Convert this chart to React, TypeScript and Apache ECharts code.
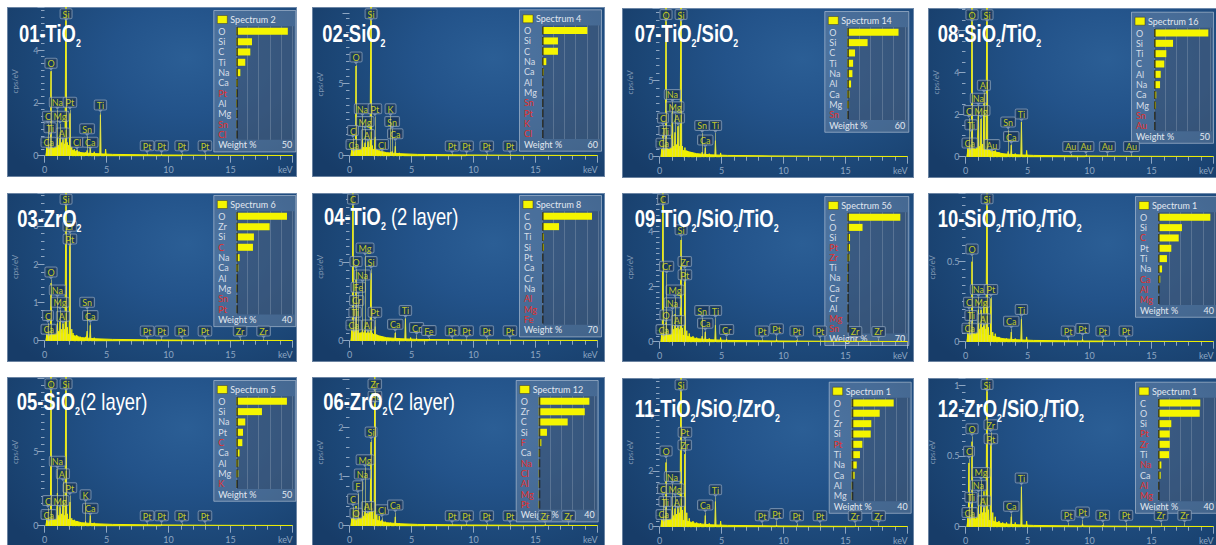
import React, { useEffect, useRef } from 'react';
import * as echarts from 'echarts';

type Peak = [number, number];
type Mark = [string, number, number];

// ---------- shared ----------
const bgKeV = [0.12, 0.2, 1.0, 2.0, 3.0, 4.0, 5.5, 9, 14, 20];

// ---------- 01-TiO2 ----------
const peaksS01: Peak[] = [[0.18, 0.35], [0.28, 0.7], [0.34, 0.5], [0.45, 0.45], [0.525, 3.2], [0.6, 0.4], [0.7, 0.3], [0.85, 0.35], [0.93, 0.45], [1.04, 0.8], [1.15, 0.4], [1.25, 0.9], [1.38, 0.5], [1.49, 0.75], [1.6, 0.45], [1.74, 7.5], [1.85, 0.5], [1.95, 0.4], [2.05, 1.6], [2.2, 0.35], [2.4, 0.25], [2.62, 0.22], [2.8, 0.15], [3.0, 0.12], [3.31, 0.12], [3.44, 0.2], [3.69, 0.35], [4.01, 0.15], [4.51, 1.55], [4.93, 0.25], [9.44, 0.04], [11.07, 0.03]];
const bgS01 = [0, 0.23, 0.3, 0.23, 0.11, 0.08, 0.05, 0.03, 0.015, 0.008];
const marksS01: Mark[] = [['Si', 1.74, 5.09], ['O', 0.525, 3.22], ['Na', 1.04, 1.74], ['Pt', 2.05, 1.74], ['C', 0.277, 1.21], ['Mg', 1.254, 1.21], ['Ti', 0.452, 0.77], ['Al', 1.487, 0.58], ['Ca', 0.341, 0.23], ['Cl', 2.62, 0.23], ['Sn', 3.44, 0.74], ['Ca', 3.69, 0.23], ['Ti', 4.51, 1.64], ['Pt', 8.27, 0.09], ['Pt', 9.44, 0.09], ['Pt', 11.07, 0.09], ['Pt', 12.94, 0.09]];
const elemsS01 = ['O', 'Si', 'C', 'Ti', 'Na', 'Ca', 'Pt', 'Al', 'Mg', 'Sn', 'Cl'];
const wtS01 = [46, 14, 12.5, 8, 3.6, 1.5, 0.6, 0.6, 0.5, 0.3, 0.2];
const redS01 = ['Pt', 'Sn', 'Cl'];

// ---------- 02-SiO2 ----------
const peaksS02: Peak[] = [[0.18, 0.5], [0.28, 0.9], [0.36, 0.6], [0.45, 0.5], [0.525, 6.2], [0.62, 0.5], [0.75, 0.4], [0.9, 0.5], [1.04, 1.2], [1.15, 0.6], [1.25, 0.9], [1.38, 0.6], [1.49, 1.0], [1.6, 0.6], [1.74, 12], [1.85, 0.7], [2.05, 1.3], [2.2, 0.5], [2.4, 0.35], [2.62, 0.3], [2.9, 0.2], [3.31, 0.25], [3.44, 0.3], [3.69, 0.65], [4.01, 0.2], [4.3, 0.1], [9.44, 0.06]];
const bgS02 = [0, 0.41, 0.55, 0.41, 0.21, 0.14, 0.09, 0.055, 0.028, 0.014];
const marksS02: Mark[] = [['Si', 1.74, 9.3], ['O', 0.525, 6.3], ['Na', 1.04, 2.72], ['Pt', 2.05, 2.72], ['K', 3.31, 2.72], ['Mg', 1.254, 1.84], ['Sn', 3.44, 1.84], ['C', 0.277, 1.22], ['Al', 1.487, 0.94], ['Ca', 3.69, 0.99], ['Ca', 0.341, 0.25], ['Cl', 2.62, 0.25], ['Pt', 8.27, 0.16], ['Pt', 9.44, 0.16], ['Pt', 11.07, 0.16], ['Pt', 12.94, 0.16]];
const elemsS02 = ['O', 'Si', 'C', 'Na', 'Ca', 'Al', 'Mg', 'Sn', 'Pt', 'K', 'Cl'];
const wtS02 = [48.6, 17.1, 17.1, 4.6, 1.8, 0.7, 0.6, 0.3, 0.3, 0.2, 0.2];
const redS02 = ['Sn', 'Pt', 'K', 'Cl'];

// ---------- 03-ZrO2 ----------
const peaksS03: Peak[] = [[0.18, 0.2], [0.28, 0.35], [0.36, 0.25], [0.45, 0.25], [0.525, 1.5], [0.62, 0.2], [0.75, 0.2], [0.9, 0.25], [1.04, 0.45], [1.15, 0.25], [1.25, 0.5], [1.38, 0.3], [1.49, 0.45], [1.6, 0.3], [1.74, 4.6], [1.85, 0.35], [2.04, 2.75], [2.2, 0.3], [2.3, 0.2], [2.6, 0.15], [2.9, 0.1], [3.31, 0.1], [3.44, 0.25], [3.69, 0.4], [4.01, 0.08], [9.44, 0.02], [15.77, 0.015]];
const bgS03 = [0, 0.16, 0.21, 0.16, 0.08, 0.052, 0.034, 0.021, 0.01, 0.005];
const marksS03: Mark[] = [['Si', 1.74, 3.5], ['Zr', 2.04, 2.79], ['Pt', 2.05, 2.46], ['O', 0.525, 1.6], ['Na', 1.04, 1.13], ['Mg', 1.254, 0.81], ['C', 0.277, 0.46], ['Al', 1.487, 0.44], ['Ca', 0.341, 0.1], ['Sn', 3.44, 0.81], ['Ca', 3.69, 0.46], ['Pt', 8.27, 0.06], ['Pt', 9.44, 0.06], ['Pt', 11.07, 0.06], ['Pt', 12.94, 0.06], ['Zr', 15.77, 0.06], ['Zr', 17.67, 0.06]];
const elemsS03 = ['O', 'Zr', 'Si', 'C', 'Na', 'Ca', 'Al', 'Mg', 'Sn', 'Pt'];
const wtS03 = [36.2, 23.8, 12.6, 11.9, 2.4, 1.4, 0.4, 0.4, 0.3, 0.2];
const redS03 = ['C', 'Sn', 'Pt'];

// ---------- 04-TiO2 (2 layer) ----------
const peaksS04: Peak[] = [[0.18, 0.8], [0.277, 12], [0.36, 1.0], [0.45, 1.2], [0.525, 4.4], [0.6, 0.8], [0.705, 0.7], [0.85, 0.5], [1.04, 1.0], [1.15, 0.5], [1.25, 1.2], [1.38, 0.5], [1.49, 0.8], [1.6, 0.5], [1.74, 4.3], [1.85, 0.5], [2.05, 0.9], [2.2, 0.4], [2.5, 0.3], [2.9, 0.2], [3.31, 0.15], [3.69, 0.5], [4.01, 0.15], [4.51, 1.4], [4.93, 0.2], [5.41, 0.15], [6.40, 0.08]];
const bgS04 = [0, 0.38, 0.51, 0.38, 0.19, 0.13, 0.083, 0.051, 0.026, 0.013];
const marksS04: Mark[] = [['C', 0.277, 8.57], ['Mg', 1.254, 5.43], ['O', 0.525, 4.57], ['Si', 1.74, 4.57], ['Na', 1.04, 3.72], ['Fe', 0.705, 2.94], ['Cr', 0.573, 2.09], ['Ti', 0.452, 1.34], ['Pt', 2.05, 1.34], ['Ti', 4.51, 1.45], ['Ca', 0.341, 0.53], ['Al', 1.487, 0.53], ['Ca', 3.69, 0.57], ['Cr', 5.41, 0.36], ['Fe', 6.40, 0.17], ['Pt', 8.27, 0.15], ['Pt', 9.44, 0.15], ['Pt', 11.07, 0.15], ['Pt', 12.94, 0.15]];
const elemsS04 = ['C', 'O', 'Ti', 'Si', 'Pt', 'Ca', 'Cr', 'Na', 'Al', 'Mg', 'Fe'];
const wtS04 = [62.5, 21.3, 2.5, 2.5, 0.4, 0.3, 0.3, 0.3, 0.2, 0.2, 0.2];
const redS04 = ['Al', 'Mg', 'Fe'];

// ---------- 05-SiO2 (2 layer) ----------
const peaksS05: Peak[] = [[0.18, 0.5], [0.277, 0.9], [0.36, 0.6], [0.45, 0.6], [0.525, 11], [0.62, 0.6], [0.75, 0.5], [0.9, 0.7], [1.04, 2.2], [1.15, 0.7], [1.25, 1.3], [1.38, 0.8], [1.49, 1.7], [1.6, 0.7], [1.74, 13], [1.85, 0.8], [2.05, 1.6], [2.2, 0.5], [2.4, 0.4], [2.62, 0.3], [2.9, 0.2], [3.31, 0.3], [3.69, 0.7], [4.01, 0.2], [9.44, 0.06]];
const bgS05 = [0, 0.41, 0.54, 0.41, 0.2, 0.135, 0.088, 0.054, 0.027, 0.014];
const marksS05: Mark[] = [['O', 0.525, 9.08], ['Si', 1.74, 9.08], ['Na', 1.04, 3.85], ['Al', 1.487, 3.0], ['Pt', 2.05, 2.05], ['K', 3.31, 1.58], ['C', 0.277, 1.19], ['Mg', 1.254, 1.19], ['Ca', 0.341, 0.25], ['Ca', 3.69, 0.68], ['Pt', 8.27, 0.16], ['Pt', 9.44, 0.16], ['Pt', 11.07, 0.16], ['Pt', 12.94, 0.16]];
const elemsS05 = ['O', 'Si', 'Na', 'Pt', 'C', 'Ca', 'Al', 'Mg', 'K'];
const wtS05 = [45.2, 22.9, 8, 6, 5.4, 2.9, 1.8, 1.8, 0.3];
const redS05 = ['C', 'K'];

// ---------- 06-ZrO2 (2 layer) ----------
const peaksS06: Peak[] = [[0.18, 0.15], [0.277, 0.35], [0.36, 0.2], [0.45, 0.2], [0.525, 0.4], [0.6, 0.2], [0.677, 0.3], [0.8, 0.15], [0.93, 0.18], [1.04, 0.35], [1.15, 0.2], [1.25, 0.4], [1.38, 0.25], [1.49, 0.45], [1.6, 0.3], [1.74, 1.7], [1.85, 0.35], [2.04, 3.6], [2.2, 0.3], [2.4, 0.2], [2.62, 0.12], [2.9, 0.08], [3.31, 0.06], [3.69, 0.18], [4.01, 0.05], [9.44, 0.02], [15.77, 0.02]];
const bgS06 = [0, 0.12, 0.16, 0.12, 0.06, 0.04, 0.026, 0.016, 0.008, 0.004];
const marksS06: Mark[] = [['Zr', 2.04, 2.73], ['Pt', 2.05, 2.48], ['Si', 1.74, 1.75], ['Mg', 1.254, 1.19], ['Na', 1.04, 0.9], ['F', 0.677, 0.66], ['C', 0.277, 0.39], ['Al', 1.487, 0.24], ['Cl', 2.62, 0.17], ['Ca', 3.69, 0.27], ['O', 0.525, 0.1], ['Pt', 8.27, 0.05], ['Pt', 9.44, 0.05], ['Pt', 11.07, 0.05], ['Pt', 12.94, 0.05], ['Zr', 15.77, 0.05], ['Zr', 17.67, 0.05]];
const elemsS06 = ['O', 'Zr', 'C', 'Si', 'F', 'Ca', 'Na', 'Cl', 'Al', 'Mg', 'Pt'];
const wtS06 = [36.2, 32.9, 20.7, 5.9, 1.9, 0.9, 0.4, 0.3, 0.3, 0.3, 0.5];
const redS06 = ['F', 'Na', 'Cl', 'Al', 'Mg', 'Pt'];

// ---------- 07-TiO2/SiO2 ----------
const peaksS07: Peak[] = [[0.18, 0.5], [0.28, 1.6], [0.36, 0.7], [0.45, 0.9], [0.525, 11], [0.62, 0.6], [0.75, 0.5], [0.9, 0.6], [1.04, 3.3], [1.15, 0.7], [1.25, 1.6], [1.38, 0.8], [1.49, 2.0], [1.6, 0.7], [1.74, 12], [1.85, 0.7], [2.05, 0.6], [2.2, 0.4], [2.5, 0.3], [2.9, 0.2], [3.44, 0.3], [3.69, 0.6], [4.01, 0.2], [4.51, 1.05], [4.93, 0.25]];
const bgS07 = [0, 0.39, 0.53, 0.39, 0.2, 0.13, 0.085, 0.053, 0.026, 0.013];
const marksS07: Mark[] = [['O', 0.525, 8.86], ['Si', 1.74, 8.86], ['Na', 1.04, 3.6], ['Mg', 1.254, 2.8], ['C', 0.277, 2.06], ['Al', 1.487, 2.06], ['Ti', 0.452, 1.23], ['Sn', 3.44, 1.56], ['Ti', 4.51, 1.56], ['Ca', 0.341, 0.39], ['Ca', 3.69, 0.61]];
const elemsS07 = ['O', 'Si', 'C', 'Ti', 'Na', 'Al', 'Ca', 'Mg', 'Sn'];
const wtS07 = [53, 21, 8, 6, 5.3, 3.9, 2.1, 1.8, 0.3];
const redS07 = ['Sn'];

// ---------- 08-SiO2/TiO2 ----------
const peaksS08: Peak[] = [[0.18, 0.4], [0.28, 0.7], [0.36, 0.5], [0.45, 0.6], [0.525, 9], [0.62, 0.45], [0.75, 0.4], [0.9, 0.45], [1.04, 2.4], [1.15, 0.5], [1.25, 1.8], [1.38, 0.6], [1.49, 3.0], [1.6, 0.5], [1.74, 10], [1.85, 0.5], [2.12, 0.4], [2.4, 0.3], [2.7, 0.2], [3.0, 0.15], [3.44, 0.25], [3.69, 0.55], [4.01, 0.15], [4.51, 1.65], [4.93, 0.3], [9.71, 0.05]];
const bgS08 = [0, 0.29, 0.38, 0.29, 0.14, 0.095, 0.062, 0.038, 0.019, 0.01];
const marksS08: Mark[] = [['O', 0.525, 6.4], ['Si', 1.74, 6.4], ['Al', 1.487, 3.05], ['Na', 1.04, 2.43], ['C', 0.277, 1.84], ['Mg', 1.254, 1.84], ['Ti', 0.452, 1.17], ['Sn', 3.44, 1.29], ['Ti', 4.51, 1.68], ['Ca', 0.341, 0.3], ['Au', 2.12, 0.22], ['Ca', 3.69, 0.6], ['Au', 8.49, 0.13], ['Au', 9.71, 0.13], ['Au', 11.44, 0.13], ['Au', 13.38, 0.13]];
const elemsS08 = ['O', 'Si', 'Ti', 'C', 'Al', 'Na', 'Ca', 'Mg', 'Sn', 'Au'];
const wtS08 = [48.5, 17, 11, 9.2, 6, 5.4, 2, 1.6, 0.3, 0.3];
const redS08 = ['Sn', 'Au'];

// ---------- 09-TiO2/SiO2/TiO2 ----------
const peaksS09: Peak[] = [[0.18, 0.4], [0.277, 6.5], [0.36, 0.5], [0.45, 0.6], [0.525, 0.7], [0.6, 0.5], [0.7, 0.4], [0.9, 0.45], [1.04, 0.8], [1.15, 0.45], [1.25, 1.0], [1.38, 0.5], [1.49, 0.7], [1.6, 0.45], [1.74, 3.7], [1.85, 0.5], [2.04, 2.5], [2.2, 0.4], [2.4, 0.3], [2.7, 0.2], [3.0, 0.15], [3.44, 0.2], [3.69, 0.35], [4.01, 0.12], [4.51, 0.6], [4.93, 0.15], [5.41, 0.1], [9.44, 0.08], [11.07, 0.04]];
const bgS09 = [0, 0.22, 0.29, 0.22, 0.11, 0.073, 0.047, 0.029, 0.015, 0.007];
const marksS09: Mark[] = [['C', 0.277, 4.92], ['Si', 1.74, 3.8], ['Cr', 0.573, 2.47], ['Zr', 2.04, 2.64], ['Pt', 2.05, 2.16], ['Mg', 1.254, 1.61], ['Na', 1.04, 1.14], ['O', 0.525, 0.7], ['Al', 1.487, 0.5], ['Ca', 0.341, 0.17], ['Sn', 3.44, 0.86], ['Ti', 4.51, 0.86], ['Ca', 3.69, 0.4], ['Cr', 5.41, 0.17], ['Pt', 8.27, 0.12], ['Pt', 9.44, 0.2], ['Pt', 11.07, 0.12], ['Pt', 12.94, 0.12], ['Zr', 15.77, 0.1], ['Zr', 17.67, 0.1]];
const elemsS09 = ['C', 'O', 'Si', 'Pt', 'Zr', 'Ti', 'Na', 'Ca', 'Cr', 'Al', 'Mg', 'Sn'];
const wtS09 = [64, 18.4, 3.3, 3.3, 2.5, 0.8, 0.8, 0.3, 0.2, 0.2, 0.2, 0.1];
const redS09 = ['Pt', 'Zr', 'Mg', 'Sn'];

// ---------- 10-SiO2/TiO2/TiO2 ----------
const peaksS10: Peak[] = [[0.18, 0.06], [0.277, 0.12], [0.36, 0.08], [0.45, 0.1], [0.525, 0.5], [0.62, 0.07], [0.75, 0.06], [0.9, 0.07], [1.04, 0.2], [1.15, 0.08], [1.25, 0.2], [1.38, 0.09], [1.49, 0.25], [1.6, 0.08], [1.74, 1.2], [1.85, 0.09], [2.05, 0.27], [2.2, 0.06], [2.4, 0.05], [2.7, 0.03], [3.0, 0.02], [3.31, 0.02], [3.69, 0.06], [4.01, 0.02], [4.51, 0.14], [4.93, 0.03], [9.44, 0.015], [11.07, 0.008]];
const bgS10 = [0, 0.038, 0.05, 0.038, 0.019, 0.0125, 0.008, 0.005, 0.0025, 0.0012];
const marksS10: Mark[] = [['Si', 1.74, 0.846], ['O', 0.525, 0.533], ['Na', 1.04, 0.28], ['Pt', 2.05, 0.28], ['C', 0.277, 0.2], ['Mg', 1.254, 0.2], ['Ti', 0.452, 0.117], ['Al', 1.487, 0.096], ['Ca', 0.341, 0.0375], ['Ti', 4.51, 0.154], ['Ca', 3.69, 0.081], ['Pt', 8.27, 0.02], ['Pt', 9.44, 0.035], ['Pt', 11.07, 0.02], ['Pt', 12.94, 0.02]];
const elemsS10 = ['O', 'Si', 'C', 'Pt', 'Ti', 'Na', 'Ca', 'Al', 'Mg'];
const wtS10 = [37.4, 17.1, 14.8, 9.5, 6.4, 2.9, 1.6, 0.5, 0.4];
const redS10 = ['C', 'Ca', 'Al', 'Mg'];

// ---------- 11-TiO2/SiO2/ZrO2 ----------
const peaksS11: Peak[] = [[0.18, 0.3], [0.277, 0.45], [0.36, 0.35], [0.45, 0.4], [0.525, 2.3], [0.62, 0.35], [0.75, 0.3], [0.9, 0.35], [1.04, 0.8], [1.15, 0.4], [1.25, 0.65], [1.38, 0.45], [1.49, 0.8], [1.6, 0.5], [1.74, 6.5], [1.85, 0.6], [2.04, 2.6], [2.2, 0.5], [2.4, 0.3], [2.7, 0.2], [3.0, 0.15], [3.31, 0.12], [3.69, 0.4], [4.01, 0.12], [4.51, 0.9], [4.93, 0.2], [9.44, 0.06], [11.07, 0.03], [15.77, 0.02]];
const bgS11 = [0, 0.22, 0.29, 0.22, 0.11, 0.072, 0.047, 0.029, 0.014, 0.007];
const marksS11: Mark[] = [['Si', 1.74, 4.82], ['Pt', 2.05, 3.12], ['Zr', 2.04, 2.66], ['O', 0.525, 2.44], ['Na', 1.04, 1.53], ['C', 0.277, 1.09], ['Mg', 1.254, 1.09], ['Ti', 0.452, 0.63], ['Al', 1.487, 0.63], ['Ca', 0.341, 0.17], ['Ti', 4.51, 1.06], ['Ca', 3.69, 0.51], ['Pt', 8.27, 0.12], ['Pt', 9.44, 0.2], ['Pt', 11.07, 0.12], ['Pt', 12.94, 0.12], ['Zr', 15.77, 0.12], ['Zr', 17.67, 0.12]];
const elemsS11 = ['O', 'C', 'Zr', 'Si', 'Pt', 'Ti', 'Na', 'Ca', 'Al', 'Mg'];
const wtS11 = [30, 20, 14, 13.6, 7.6, 5.9, 3.6, 2.1, 0.5, 0.4];
const redS11 = ['Pt'];

// ---------- 12-ZrO2/SiO2/TiO2 ----------
const peaksS12: Peak[] = [[0.18, 0.06], [0.277, 0.45], [0.36, 0.08], [0.45, 0.12], [0.525, 0.6], [0.62, 0.08], [0.75, 0.07], [0.9, 0.08], [1.04, 0.15], [1.15, 0.09], [1.25, 0.2], [1.38, 0.1], [1.49, 0.25], [1.6, 0.1], [1.74, 1.3], [1.85, 0.12], [2.04, 0.62], [2.2, 0.1], [2.4, 0.07], [2.7, 0.04], [3.0, 0.03], [3.31, 0.03], [3.69, 0.07], [4.01, 0.03], [4.51, 0.28], [4.93, 0.04], [9.44, 0.02], [11.07, 0.01], [15.77, 0.005]];
const bgS12 = [0, 0.042, 0.056, 0.042, 0.021, 0.014, 0.009, 0.0056, 0.0028, 0.0014];
const marksS12: Mark[] = [['Si', 1.74, 0.95], ['Zr', 2.04, 0.666], ['O', 0.525, 0.638], ['Pt', 2.05, 0.567], ['C', 0.277, 0.48], ['Mg', 1.254, 0.33], ['Na', 1.04, 0.24], ['Ti', 0.452, 0.155], ['Al', 1.487, 0.13], ['Ca', 0.341, 0.047], ['Ti', 4.51, 0.29], ['Ca', 3.69, 0.092], ['Pt', 8.27, 0.028], ['Pt', 9.44, 0.05], ['Pt', 11.07, 0.028], ['Pt', 12.94, 0.028], ['Zr', 15.77, 0.028], ['Zr', 17.67, 0.028]];
const elemsS12 = ['C', 'O', 'Si', 'Pt', 'Zr', 'Ti', 'Na', 'Ca', 'Al', 'Mg'];
const wtS12 = [30.2, 29.8, 9.5, 8.4, 8.4, 7.9, 2.4, 1.9, 0.4, 0.4];
const redS12 = ['Pt', 'Zr', 'Na', 'Al', 'Mg'];

// ---------- panel layout ----------
interface PanelCfg {
  title: string; spectrum: number; wmax: number;
  left: number; top: number; width: number; height: number;
  tx: number; ty: number; ix: number; iy: number; iw?: number; gap?: number;
  ymax: number; pxu: number; yInt: number; minor: number; base: number;
  peaks: Peak[]; bg: number[]; marks: Mark[]; elems: string[]; wt: number[]; red: string[];
}

const panels: PanelCfg[] = [
  { title: '{m|01-TiO}{s|2}', spectrum: 2, wmax: 50, left: 7, top: 7, width: 290, height: 170, tx: 12, ty: 11.7, ix: 206.3, iy: 3, ymax: 5.63, pxu: 26.4, yInt: 2, minor: 8, base: 148.7, peaks: peaksS01, bg: bgS01, marks: marksS01, elems: elemsS01, wt: wtS01, red: redS01 },
  { title: '{m|02-SiO}{s|2}', spectrum: 4, wmax: 60, left: 312, top: 7, width: 293, height: 170, tx: 10.3, ty: 11.7, ix: 207, iy: 2.3, ymax: 9.86, pxu: 14.47, yInt: 5, minor: 10, base: 148.7, peaks: peaksS02, bg: bgS02, marks: marksS02, elems: elemsS02, wt: wtS02, red: redS02 },
  { title: '{m|07-TiO}{s|2}{m|/SiO}{s|2}', spectrum: 14, wmax: 60, left: 622, top: 8, width: 292, height: 170, tx: 12.7, ty: 10.7, ix: 202.3, iy: 3, iw: 84, ymax: 9.78, pxu: 15.2, yInt: 5, minor: 10, base: 148.7, peaks: peaksS07, bg: bgS07, marks: marksS07, elems: elemsS07, wt: wtS07, red: redS07 },
  { title: '{m|08-SiO}{s|2}{m|/TiO}{s|2}', spectrum: 16, wmax: 50, left: 928, top: 8, width: 290, height: 170, tx: 9.7, ty: 10.7, ix: 203, iy: 3.7, ymax: 7.08, pxu: 21, yInt: 2, minor: 4, base: 148.7, peaks: peaksS08, bg: bgS08, marks: marksS08, elems: elemsS08, wt: wtS08, red: redS08 },
  { title: '{m|03-ZrO}{s|2}', spectrum: 6, wmax: 40, left: 7, top: 193, width: 290, height: 169, tx: 10.3, ty: 10.7, ix: 206.3, iy: 2, ymax: 3.85, pxu: 38.3, yInt: 1, minor: 5, base: 147.7, peaks: peaksS03, bg: bgS03, marks: marksS03, elems: elemsS03, wt: wtS03, red: redS03 },
  { title: '{m|04-TiO}{s|2}{l| (2 layer)}', spectrum: 8, wmax: 70, left: 312, top: 193, width: 293, height: 169, tx: 12, ty: 9, ix: 207, iy: 2, ymax: 9.43, pxu: 15.67, yInt: 5, minor: 10, base: 147.7, peaks: peaksS04, bg: bgS04, marks: marksS04, elems: elemsS04, wt: wtS04, red: redS04 },
  { title: '{m|09-TiO}{s|2}{m|/SiO}{s|2}{m|/TiO}{s|2}', spectrum: 56, wmax: 70, left: 622, top: 193, width: 292, height: 169, tx: 12.7, ty: 10.7, ix: 202.3, iy: 3, iw: 84, gap: 10.1, ymax: 5.41, pxu: 27.5, yInt: 2, minor: 10, base: 148.7, peaks: peaksS09, bg: bgS09, marks: marksS09, elems: elemsS09, wt: wtS09, red: redS09 },
  { title: '{m|10-SiO}{s|2}{m|/TiO}{s|2}{m|/TiO}{s|2}', spectrum: 1, wmax: 40, left: 928, top: 193, width: 290, height: 169, tx: 9.7, ty: 10.7, ix: 207, iy: 3, ymax: 0.929, pxu: 160, yInt: 0.5, minor: 10, base: 148.7, peaks: peaksS10, bg: bgS10, marks: marksS10, elems: elemsS10, wt: wtS10, red: redS10 },
  { title: '{m|05-SiO}{s|2}{l|(2 layer)}', spectrum: 5, wmax: 50, left: 7, top: 377, width: 290, height: 170, tx: 9.7, ty: 9.3, ix: 206.3, iy: 3, ymax: 9.95, pxu: 14.8, yInt: 5, minor: 10, base: 148.7, peaks: peaksS05, bg: bgS05, marks: marksS05, elems: elemsS05, wt: wtS05, red: redS05 },
  { title: '{m|06-ZrO}{s|2}{l|(2 layer)}', spectrum: 12, wmax: 40, left: 312, top: 377, width: 293, height: 170, tx: 11.3, ty: 9.3, ix: 203.7, iy: 3, ymax: 2.98, pxu: 49.2, yInt: 1, minor: 5, base: 148.7, peaks: peaksS06, bg: bgS06, marks: marksS06, elems: elemsS06, wt: wtS06, red: redS06 },
  { title: '{m|11-TiO}{s|2}{m|/SiO}{s|2}{m|/ZrO}{s|2}', spectrum: 1, wmax: 40, left: 622, top: 378, width: 292, height: 170, tx: 12.7, ty: 15.7, ix: 206.7, iy: 3.7, ymax: 5.33, pxu: 27.9, yInt: 2, minor: 10, base: 148.7, peaks: peaksS11, bg: bgS11, marks: marksS11, elems: elemsS11, wt: wtS11, red: redS11 },
  { title: '{m|12-ZrO}{s|2}{m|/SiO}{s|2}{m|/TiO}{s|2}', spectrum: 1, wmax: 40, left: 928, top: 378, width: 290, height: 170, tx: 9.7, ty: 15.7, ix: 207, iy: 3.7, ymax: 1.05, pxu: 141.7, yInt: 0.5, minor: 10, base: 148.7, peaks: peaksS12, bg: bgS12, marks: marksS12, elems: elemsS12, wt: wtS12, red: redS12 },
];

const FONT = 'Lato, "Noto Sans", "DejaVu Sans", sans-serif';
const TITLE_FONT = '"Liberation Sans", Arial, sans-serif';
const AXIS_C = '#8ea6c2';
const YELLOW = '#f0f000';

function buildOption(c: PanelCfg): any {
  const gridH = c.ymax * c.pxu;
  const gTop = c.base - gridH;
  const pts: number[][] = [];
  c.peaks.forEach(([e, h]) => { pts.push([e - 0.05, 0], [e, h], [e + 0.05, 0]); });
  pts.sort((a, b) => a[0] - b[0]);
  const bgData = bgKeV.map((k, i) => [k, c.bg[i]]);

  const gap = c.gap ?? 10.33;
  const n = c.elems.length;
  const bw = c.iw ?? 82;
  const bx = c.ix, by = c.iy;
  const row0 = by + 21.3;
  const g1Top = row0 - gap / 2;
  const g1H = n * gap;
  const wY = row0 + n * gap;
  const boxH = wY + 6.5 - by;
  const barW = bw - 26;

  return {
    animation: false,
    grid: [
      { left: 37.5, top: gTop, width: 248, height: gridH, outerBoundsMode: 'none' },
      { left: bx + 23, top: g1Top, width: barW, height: g1H, outerBoundsMode: 'none' },
    ],
    xAxis: [
      {
        gridIndex: 0, type: 'value', min: 0, max: 20, interval: 5,
        axisLine: { show: true, lineStyle: { color: 'rgba(140,165,195,0.55)', width: 1 } },
        axisTick: { show: true, length: 7, lineStyle: { color: AXIS_C } },
        minorTick: { show: true, splitNumber: 5, length: 4, lineStyle: { color: AXIS_C } },
        splitLine: { show: false },
        axisLabel: { color: AXIS_C, fontSize: 9, fontFamily: FONT, margin: 9, alignMaxLabel: 'right', formatter: (v: number) => (v === 20 ? 'keV' : String(v)) },
      },
      {
        gridIndex: 1, type: 'value', min: 0, max: c.wmax, interval: c.wmax / 5, z: 3,
        axisLine: { show: false }, axisTick: { show: false }, axisLabel: { show: false },
        splitLine: { show: true, lineStyle: { color: 'rgba(130,150,175,0.45)', width: 1 } },
      },
    ],
    yAxis: [
      {
        gridIndex: 0, type: 'value', min: 0, max: c.ymax, interval: c.yInt, offset: 4,
        axisLine: { show: false },
        axisTick: { show: true, length: 7, lineStyle: { color: AXIS_C } },
        minorTick: { show: true, splitNumber: c.minor, length: 3.5, lineStyle: { color: AXIS_C } },
        splitLine: { show: false },
        axisLabel: { color: AXIS_C, fontSize: 9, fontFamily: FONT, margin: 2, showMaxLabel: false },
        name: 'cps/eV', nameLocation: 'middle', nameGap: 22, nameRotate: 90,
        nameTextStyle: { color: '#7f97b3', fontSize: 8, fontFamily: FONT },
      },
      {
        gridIndex: 1, type: 'category', data: c.elems, inverse: true, z: 3,
        axisLine: { show: false }, axisTick: { show: false },
        axisLabel: {
          interval: 0, align: 'left', margin: 18, fontSize: 9, fontFamily: FONT,
          color: (v: string) => (c.red.includes(v) ? '#e0302c' : '#d6dee8'),
        },
      },
    ],
    series: [
      {
        type: 'line', xAxisIndex: 0, yAxisIndex: 0, data: bgData, symbol: 'none', silent: true,
        lineStyle: { color: YELLOW, width: 1 }, areaStyle: { color: YELLOW, opacity: 1 }, z: 2,
      },
      {
        type: 'line', xAxisIndex: 0, yAxisIndex: 0, data: pts, symbol: 'none', clip: false, silent: true,
        lineStyle: { color: YELLOW, width: 1 }, areaStyle: { color: YELLOW, opacity: 1 }, z: 2,
      },
      {
        type: 'scatter', xAxisIndex: 0, yAxisIndex: 0, z: 4, silent: true, clip: false,
        data: c.marks.map((m) => ({ name: m[0], value: [m[1], m[2]] })),
        symbol: 'triangle', symbolRotate: 180, symbolSize: [5, 3], symbolOffset: [0, -1.5],
        itemStyle: { color: '#8ea2ba' },
        label: {
          show: true, position: 'top', distance: 0, formatter: '{b}',
          color: '#ecec18', fontSize: 9, fontFamily: FONT, lineHeight: 8,
          backgroundColor: 'rgba(22,50,86,0.92)', borderColor: '#8299b3', borderWidth: 1, borderRadius: 1,
          padding: [1, 2, 0, 2],
        },
        markLine: {
          silent: true, symbol: ['none', 'none'], label: { show: false },
          lineStyle: { color: 'rgba(215,215,120,0.6)', width: 1, type: 'solid' },
          data: c.marks.map((m) => [{ coord: [m[1], 0] }, { coord: [m[1], m[2]] }]),
        },
      },
      {
        type: 'bar', xAxisIndex: 1, yAxisIndex: 1, data: c.wt, barWidth: 7, silent: true,
        itemStyle: { color: '#f5f500' }, z: 5,
      },
      {
        type: 'scatter', xAxisIndex: 1, yAxisIndex: 1, silent: true, z: 6,
        data: c.elems.map((e) => [0, e]), symbol: 'rect', symbolSize: [1.6, 8], symbolOffset: [0.8, 0],
        itemStyle: { color: '#1c1c1c' },
      },
    ],
    graphic: [
      { type: 'rect', z: 1, silent: true, shape: { x: bx + 0.5, y: by + 0.5, width: bw, height: boxH }, style: { fill: 'rgba(150,165,185,0.33)', stroke: 'rgba(200,212,226,0.55)', lineWidth: 1 } },
      { type: 'rect', z: 2, silent: true, shape: { x: bx + 23, y: g1Top, width: bw - 24, height: g1H }, style: { fill: 'rgba(25,45,75,0.33)' } },
      { type: 'rect', z: 2, silent: true, shape: { x: bx + 4, y: by + 5.5, width: 10, height: 8 }, style: { fill: '#f5f500', stroke: '#333', lineWidth: 0.5 } },
      { type: 'text', z: 2, silent: true, x: bx + 17, y: by + 9.5, style: { text: 'Spectrum ' + c.spectrum, fill: '#e2e8f0', fontSize: 9, fontFamily: FONT, verticalAlign: 'middle', align: 'left' } },
      { type: 'text', z: 2, silent: true, x: bx + 5, y: wY, style: { text: 'Weight %', fill: '#e2e8f0', fontSize: 9, fontFamily: FONT, verticalAlign: 'middle', align: 'left' } },
      { type: 'text', z: 2, silent: true, x: bx + bw - 3, y: wY, style: { text: String(c.wmax), fill: '#e2e8f0', fontSize: 9, fontFamily: FONT, verticalAlign: 'middle', align: 'right' } },
      {
        type: 'text', z: 20, silent: true, x: c.tx, y: c.ty, scaleX: 0.8, scaleY: 1,
        style: {
          text: c.title, fill: '#ffffff', fontSize: 23, fontWeight: 'bold', fontFamily: TITLE_FONT, align: 'left', verticalAlign: 'top',
          rich: {
            m: { fontSize: 23, lineHeight: 30, fill: '#ffffff', fontWeight: 'bold', fontFamily: TITLE_FONT },
            l: { fontSize: 23, lineHeight: 30, fill: '#ffffff', fontWeight: 'normal', fontFamily: TITLE_FONT },
            s: { fontSize: 11, lineHeight: 11, fill: '#ffffff', fontWeight: 'bold', fontFamily: TITLE_FONT, verticalAlign: 'bottom' },
          },
        },
      },
    ],
  };
}

const PANEL_BG = 'radial-gradient(ellipse 75% 95% at 62% 30%, #2b5e95 0%, #23538a 35%, #1c4777 70%, #173c68 100%)';

function Panel({ cfg }: { cfg: PanelCfg }) {
  const ref = useRef<HTMLDivElement>(null);
  useEffect(() => {
    if (!ref.current) return;
    const chart = echarts.init(ref.current, undefined, { renderer: 'svg' });
    chart.setOption(buildOption(cfg));
    return () => chart.dispose();
  }, [cfg]);
  return (
    <div
      ref={ref}
      style={{
        position: 'absolute', left: cfg.left, top: cfg.top, width: cfg.width, height: cfg.height,
        background: PANEL_BG, boxShadow: 'inset 0 0 0 1px rgba(190,200,215,0.5)', overflow: 'hidden',
      }}
    />
  );
}

export default function App() {
  return (
    <div style={{ position: 'fixed', left: 0, top: 0, width: 1216, height: 545, overflow: 'hidden', background: '#ffffff' }}>
      {panels.map((p, i) => (
        <Panel key={i} cfg={p} />
      ))}
    </div>
  );
}
